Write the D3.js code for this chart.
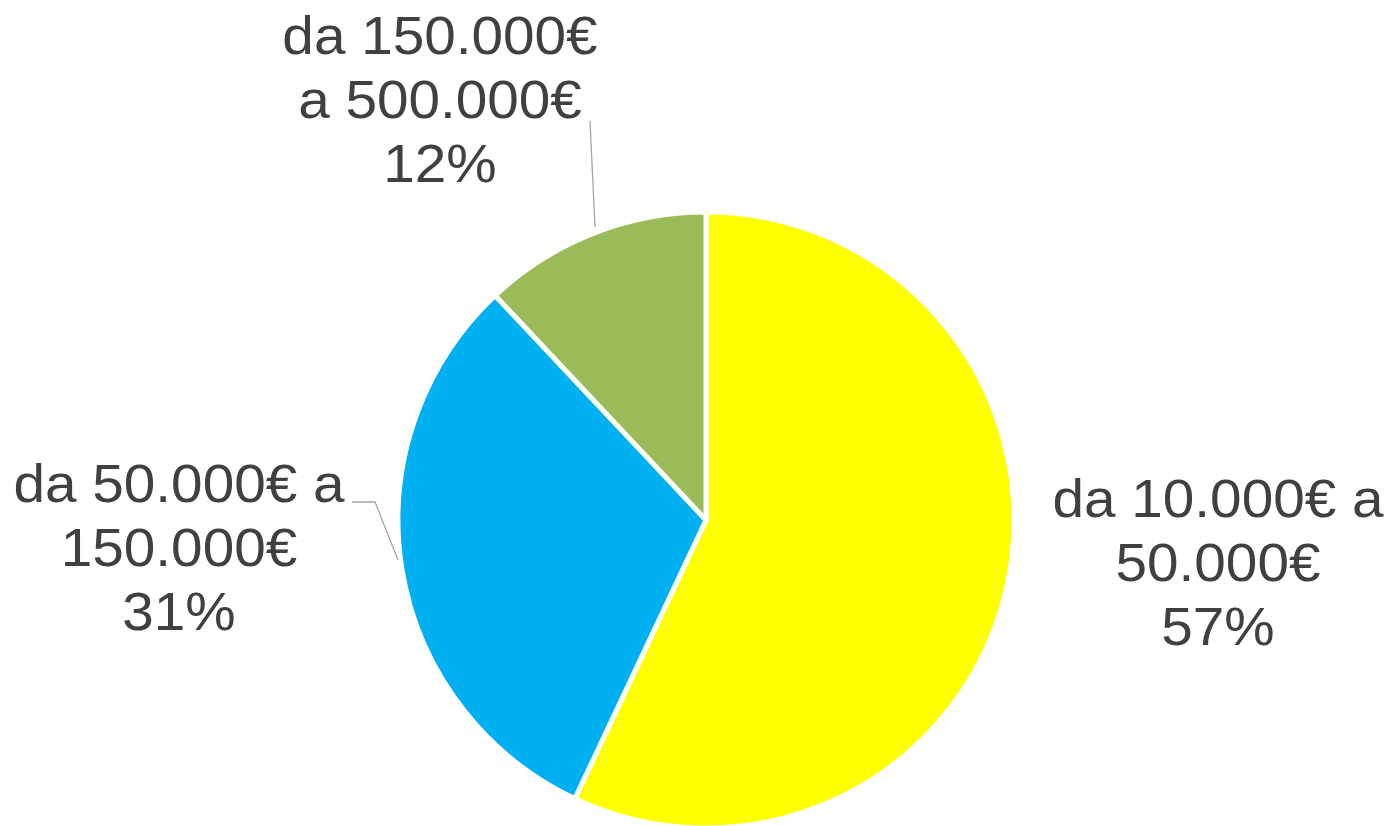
<!DOCTYPE html>
<html><head><meta charset="utf-8">
<script src="https://cdn.jsdelivr.net/npm/d3@7"></script>
<style>html,body{margin:0;padding:0;background:#fff;overflow:hidden}</style>
</head><body>
<svg id="c" width="1391" height="826"></svg>
<script>
const categories = ["da 10.000€ a 50.000€", "da 50.000€ a 150.000€", "da 150.000€ a 500.000€"];
const values = [57, 31, 12];
const labelLines = [
  ["da 10.000€ a", "50.000€", "57%"],
  ["da 50.000€ a", "150.000€", "31%"],
  ["da 150.000€", "a 500.000€", "12%"]
];
const colors = ["#FFFF00", "#00B0F0", "#9BBB59"];

const svg = d3.select("#c");
const cx = 706, cy = 520, r = 308;
const g = svg.append("g").attr("transform", `translate(${cx},${cy})`);
const pie = d3.pie().sort(null).value(d => d)(values);
const arc = d3.arc().innerRadius(0).outerRadius(r);
g.selectAll("path").data(pie).join("path")
  .attr("d", arc).attr("fill", (d, i) => colors[i])
  .attr("stroke", "#fff").attr("stroke-width", 5).attr("stroke-linejoin", "round");

// label layout (positions in page coordinates)
const labelPos = [
  {x: 1218, y: 517},
  {x: 179, y: 502},
  {x: 440, y: 54}
];
const lineH = 64;
labelLines.forEach((lines, i) => {
  const t = svg.append("g")
    .attr("transform", `translate(${labelPos[i].x},${labelPos[i].y}) scale(1.05,1)`)
    .append("text")
    .attr("text-anchor", "middle")
    .attr("font-family", "Liberation Sans, Arial, sans-serif")
    .attr("font-size", 54)
    .attr("fill", "#404040");
  lines.forEach((l, j) => {
    t.append("tspan").attr("x", 0).attr("y", j * lineH).text(l);
  });
});

// leader lines
const leaders = [
  [[352, 502], [375, 502], [398, 560]],
  [[590, 121], [595, 227]]
];
leaders.forEach(pts => {
  svg.append("path").attr("d", d3.line()(pts))
    .attr("fill", "none").attr("stroke", "#a6a6a6").attr("stroke-width", 1.3);
});
</script>
</body></html>
